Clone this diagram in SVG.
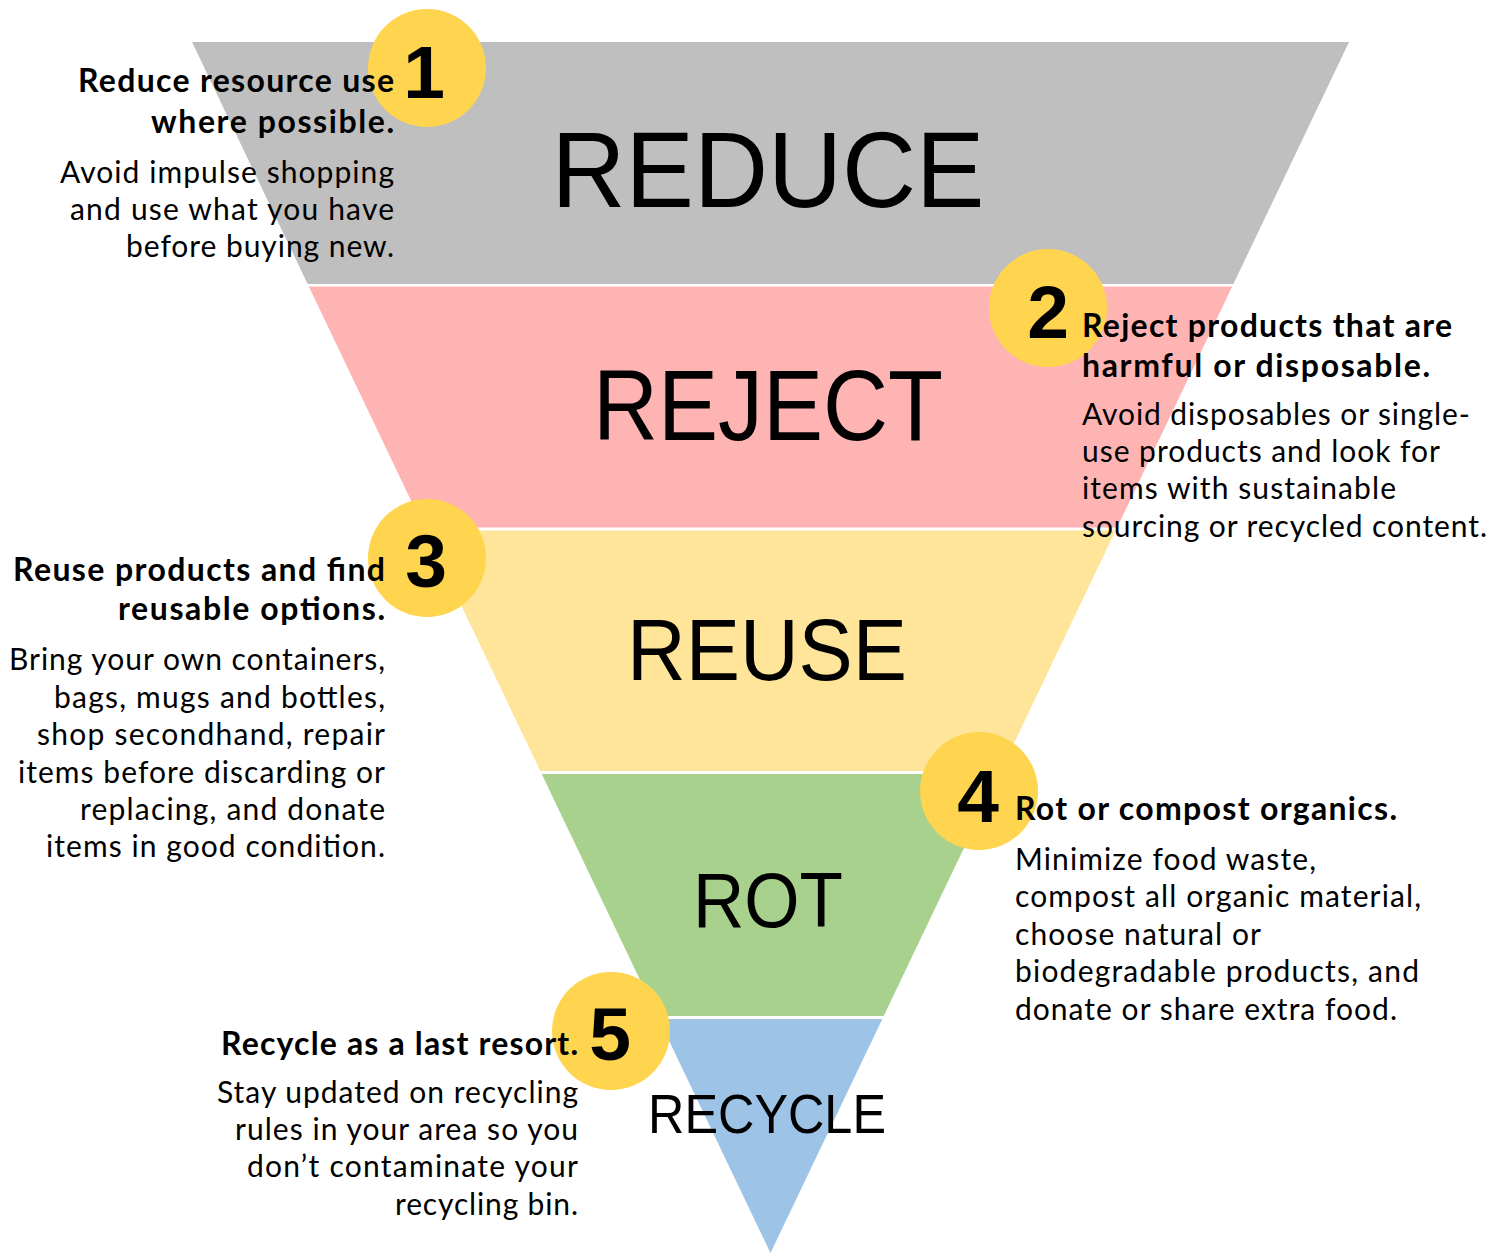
<svg xmlns="http://www.w3.org/2000/svg" width="1505" height="1254" viewBox="0 0 1505 1254">
  <style>
    .band-label { font-family: "Liberation Sans", Arial, sans-serif; fill: #000; text-anchor: middle; }
    .badge circle { fill: #FFD44F; }
    .badge text { font-family: "Liberation Sans", Arial, sans-serif; font-weight: bold; font-size: 75px; fill: #000; text-anchor: middle; }
    .head { font-family: Lato, "Open Sans", sans-serif; font-weight: bold; font-size: 32px; fill: #000; }
    .body { font-family: Lato, "Open Sans", sans-serif; font-size: 30px; fill: #000; }
    .right { text-anchor: end; }
    .left { text-anchor: start; }
  </style>
  <rect width="1505" height="1254" fill="#FFFFFF"/>

  <!-- inverted pyramid: five stacked bands -->
  <g id="band-reduce">
    <polygon points="192,42 1349,42 1233.4,284 307.6,284" fill="#BFBFBF"/>
    <text class="band-label" x="768" y="207" font-size="108" textLength="433" lengthAdjust="spacingAndGlyphs">REDUCE</text>
  </g>
  <g id="band-reject">
    <polygon points="308.8,286.5 1232.2,286.5 1117.1,527.5 423.9,527.5" fill="#FFB4B4"/>
    <text class="band-label" x="768" y="440" font-size="100" textLength="350" lengthAdjust="spacingAndGlyphs">REJECT</text>
  </g>
  <g id="band-reuse">
    <polygon points="425.4,530.5 1115.6,530.5 1000.7,771 540.3,771" fill="#FFE599"/>
    <text class="band-label" x="767" y="680" font-size="88" textLength="280" lengthAdjust="spacingAndGlyphs">REUSE</text>
  </g>
  <g id="band-rot">
    <polygon points="541.7,774 999.3,774 883.7,1016 657.3,1016" fill="#A9D18E"/>
    <text class="band-label" x="768" y="927" font-size="77" textLength="150" lengthAdjust="spacingAndGlyphs">ROT</text>
  </g>
  <g id="band-recycle">
    <polygon points="658.7,1019 882.3,1019 770.5,1253" fill="#9DC3E6"/>
    <text class="band-label" x="767" y="1133" font-size="56" textLength="238" lengthAdjust="spacingAndGlyphs">RECYCLE</text>
  </g>

  <!-- numbered badges -->
  <g id="badge-1" class="badge"><circle cx="427" cy="68" r="59"/><text x="424" y="98">1</text></g>
  <g id="badge-2" class="badge"><circle cx="1048" cy="308" r="59"/><text x="1048" y="338">2</text></g>
  <g id="badge-3" class="badge"><circle cx="427" cy="558" r="59"/><text x="426" y="587">3</text></g>
  <g id="badge-4" class="badge"><circle cx="979" cy="791" r="59"/><text x="978" y="822">4</text></g>
  <g id="badge-5" class="badge"><circle cx="611" cy="1031" r="59"/><text x="610" y="1060">5</text></g>

  <!-- step descriptions -->
  <g id="text-reduce">
    <text class="head right" x="394" y="92" textLength="316">Reduce resource use</text>
    <text class="head right" x="394" y="133" textLength="243">where possible.</text>
    <text class="body right" x="394" y="183" textLength="334">Avoid impulse shopping</text>
    <text class="body right" x="394" y="220" textLength="324">and use what you have</text>
    <text class="body right" x="394" y="257" textLength="268">before buying new.</text>
  </g>

  <g id="text-reject">
    <text class="head left" x="1082" y="337" textLength="370">Reject products that are</text>
    <text class="head left" x="1082" y="377" textLength="348">harmful or disposable.</text>
    <text class="body left" x="1082" y="425" textLength="388">Avoid disposables or single-</text>
    <text class="body left" x="1082" y="462" textLength="358">use products and look for</text>
    <text class="body left" x="1082" y="499" textLength="314">items with sustainable</text>
    <text class="body left" x="1082" y="537" textLength="405">sourcing or recycled content.</text>
  </g>

  <g id="text-reuse">
    <text class="head right" x="385" y="581" textLength="372">Reuse products and find</text>
    <text class="head right" x="385" y="620" textLength="267">reusable options.</text>
    <text class="body right" x="385" y="670" textLength="376">Bring your own containers,</text>
    <text class="body right" x="385" y="708" textLength="331">bags, mugs and bottles,</text>
    <text class="body right" x="385" y="745" textLength="348">shop secondhand, repair</text>
    <text class="body right" x="385" y="783" textLength="367">items before discarding or</text>
    <text class="body right" x="385" y="820" textLength="305">replacing, and donate</text>
    <text class="body right" x="385" y="857" textLength="339">items in good condition.</text>
  </g>

  <g id="text-rot">
    <text class="head left" x="1015" y="820" textLength="382">Rot or compost organics.</text>
    <text class="body left" x="1015" y="870" textLength="301">Minimize food waste,</text>
    <text class="body left" x="1015" y="907" textLength="406">compost all organic material,</text>
    <text class="body left" x="1015" y="945" textLength="246">choose natural or</text>
    <text class="body left" x="1015" y="982" textLength="404">biodegradable products, and</text>
    <text class="body left" x="1015" y="1020" textLength="382">donate or share extra food.</text>
  </g>

  <g id="text-recycle">
    <text class="head right" x="578" y="1055" textLength="357">Recycle as a last resort.</text>
    <text class="body right" x="578" y="1103" textLength="361">Stay updated on recycling</text>
    <text class="body right" x="578" y="1140" textLength="343">rules in your area so you</text>
    <text class="body right" x="578" y="1177" textLength="331">don’t contaminate your</text>
    <text class="body right" x="578" y="1215" textLength="183">recycling bin.</text>
  </g>
</svg>
